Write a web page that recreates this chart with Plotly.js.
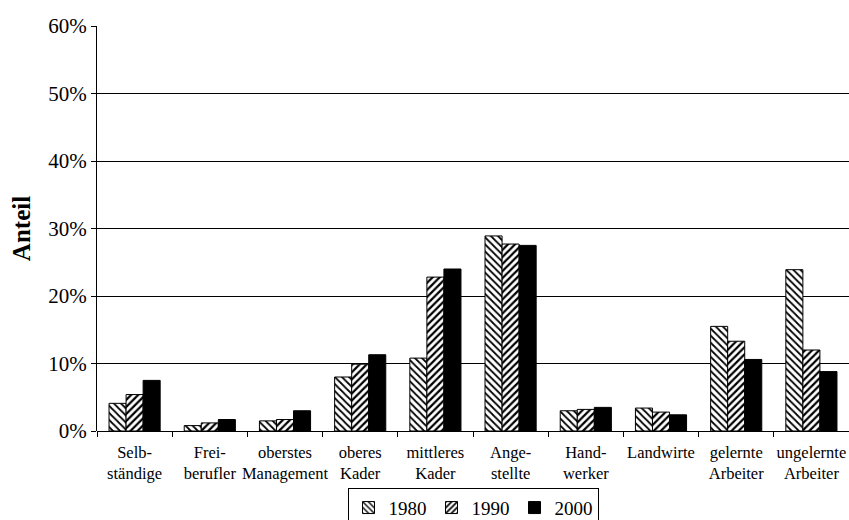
<!DOCTYPE html>
<html>
<head>
<meta charset="utf-8">
<script src="https://cdn.plot.ly/plotly-3.0.1.min.js"></script>
<style>html,body{margin:0;padding:0;background:#fff;}#chart{width:849px;height:520px;}</style>
</head>
<body>
<div id="chart"></div>
<script>
const categories = ["Selb-<br>ständige", "Frei-<br>berufler", "oberstes<br>Management", "oberes<br>Kader", "mittleres<br>Kader", "Ange-<br>stellte", "Hand-<br>werker", "Landwirte", "gelernte<br>Arbeiter", "ungelernte<br>Arbeiter"];
const years = ["1980", "1990", "2000"];
const values1980 = [4.1, 0.8, 1.5, 8.0, 10.8, 28.9, 3.0, 3.4, 15.5, 23.9];
const values1990 = [5.4, 1.2, 1.7, 9.9, 22.8, 27.7, 3.2, 2.8, 13.3, 12.0];
const values2000 = [7.5, 1.7, 3.0, 11.3, 24.0, 27.5, 3.5, 2.4, 10.6, 8.8];
const yTicks = [0, 10, 20, 30, 40, 50, 60];

const series = [values1980, values1990, values2000];
const patterns = [
  {shape: "\\", fgcolor: "#000", bgcolor: "#fff", size: 5, solidity: 0.35},
  {shape: "/", fgcolor: "#000", bgcolor: "#fff", size: 5, solidity: 0.45},
  {shape: "", fgcolor: "#000", bgcolor: "#000"}
];
const traces = series.map((vals, i) => ({
  type: "bar",
  name: years[i],
  x: categories,
  y: vals,
  marker: {
    color: i === 2 ? "#000" : "#fff",
    line: {color: "#000", width: 1},
    pattern: patterns[i]
  }
}));

const layout = {
  width: 849, height: 520,
  margin: {l: 97, r: 0, t: 26, b: 89, autoexpand: false},
  paper_bgcolor: "#fff", plot_bgcolor: "#fff",
  font: {family: "Liberation Serif, Times New Roman, serif", color: "#000", size: 17},
  barmode: "group",
  bargap: 0.32,
  bargroupgap: 0,
  showlegend: true,
  legend: {
    orientation: "h", x: 0.5, xanchor: "center", y: -0.14, yanchor: "top",
    bordercolor: "#000", borderwidth: 1, bgcolor: "rgba(255,255,255,0)",
    font: {size: 19}, itemwidth: 30, tracegroupgap: 0
  },
  xaxis: {
    type: "category",
    showline: false,
    ticks: "outside", ticklen: 5, tickcolor: "#000",
    tickson: "boundaries",
    tickangle: 0,
    ticklabelstandoff: 9,
    showgrid: false,
    tickfont: {size: 16.5},
    automargin: false
  },
  yaxis: {
    range: [0, 60],
    tickvals: yTicks,
    ticktext: yTicks.map(v => v + "%"),
    showline: true, linecolor: "#000", linewidth: 1,
    ticks: "outside", ticklen: 5, tickcolor: "#000",
    showgrid: true, gridcolor: "#000", gridwidth: 1,
    zeroline: true, zerolinecolor: "#000",
    tickfont: {size: 21},
    title: {text: "<b>Anteil</b>", font: {size: 25}, standoff: 10},
    automargin: false
  }
};

Plotly.newPlot("chart", traces, layout, {displayModeBar: false, staticPlot: true});
</script>
</body>
</html>
